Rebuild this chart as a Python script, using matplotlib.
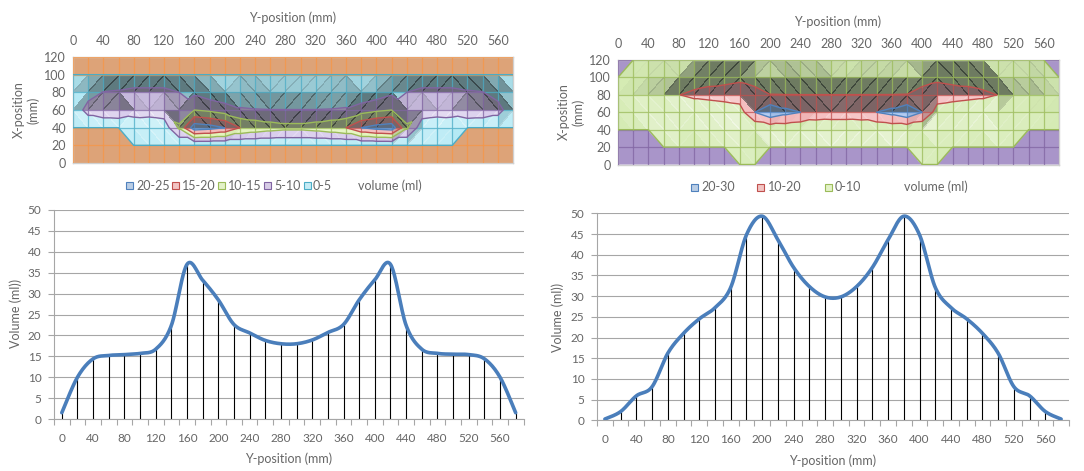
import numpy as np
import matplotlib
matplotlib.use("Agg")
import matplotlib.pyplot as plt
from matplotlib.tri import Triangulation
from matplotlib.collections import PolyCollection, LineCollection
from matplotlib.patches import Rectangle

plt.rcParams['font.family'] = ['Lato', 'DejaVu Sans']

# ---------------------------------------------------------------- data
y_positions = list(range(0, 600, 20))      # mm, 30 columns
x_positions = list(range(0, 140, 20))      # mm, 7 rows

# volume per Y-position (ml)
vol_left = [1.5, 10.0, 14.4, 15.2, 15.4, 15.7, 16.7, 22.4, 37.0, 33.2,
            28.5, 22.6, 20.6, 18.8, 18.0, 18.0, 18.9, 20.7, 22.6, 28.5,
            33.3, 37.0, 22.4, 16.7, 15.7, 15.5, 15.4, 14.4, 10.0, 1.5]
vol_right = [0.3, 2.1, 5.9, 8.1, 16.2, 21.0, 24.5, 27.2, 32.1, 44.8,
             49.3, 43.6, 36.9, 32.3, 29.8, 29.8, 32.3, 36.9, 43.6, 49.3,
             44.8, 32.1, 27.2, 24.5, 21.0, 16.2, 8.1, 5.9, 2.1, 0.3]

# volume field (ml), one row per X-position (0 ... 120 mm)
left_x0 = [0.0] * 30
left_x20 = [0.0] * 30
left_x40 = [0, 0, 0, 0, 1.0, 1.5, 2.0, 11, 23, 22, 20, 15, 13.5, 12.3, 11.5,
            11.5, 12.3, 13.5, 15, 20, 22, 23, 11, 2.0, 1.5, 1.0, 0, 0, 0, 0]
left_x60 = [1.0, 7.2, 9.0, 9.5, 7.7, 7.3, 8.0, 6.5, 10, 9, 7.5, 5.5, 5.2, 5.1, 5.1,
            5.1, 5.1, 5.2, 5.5, 7.5, 9, 10, 6.5, 8.0, 7.3, 7.7, 9.5, 9.0, 7.2, 1.0]
left_x80 = [0.6, 2.8, 5.2, 5.7, 6.7, 6.7, 6.7, 5.0, 4.0, 2.2, 1.0, 2.0, 1.9, 1.4, 1.4,
            1.4, 1.4, 1.9, 2.0, 1.0, 2.2, 4.0, 5.0, 6.7, 6.7, 6.7, 5.7, 5.2, 2.8, 0.6]
left_x100 = [0.0] * 30
left_x120 = [0.0] * 30

right_x0 = [0.0] * 30
right_x20 = [0, 0, 0, 0, 0, 0, 0, 0, 0.6, 0.8, 0, 0, 0, 0, 0,
             0, 0, 0, 0, 0, 0.8, 0.6, 0, 0, 0, 0, 0, 0, 0, 0]
right_x40 = [0, 0, 0, 0.8, 1.5, 0.5, 1.0, 1.2, 2.0, 1.0, 2.5, 3.0, 2.0, 2.5, 3.0,
             3.0, 2.5, 2.0, 3.0, 2.5, 1.0, 2.0, 1.2, 1.0, 0.5, 1.5, 0.8, 0, 0, 0]
right_x60 = [0.1, 0.5, 1.5, 2.2, 3.0, 3.0, 3.0, 4.0, 5.5, 20, 27.5, 23, 20, 16, 15,
             15, 16, 20, 23, 27.5, 20, 5.5, 4.0, 3.0, 3.0, 3.0, 2.2, 1.5, 0.5, 0.1]
right_x80 = [0.2, 1.0, 2.5, 3.0, 9.8, 12, 13, 14, 15, 14, 10.2, 10.1, 10.1, 10.1, 10.1,
             10.1, 10.1, 10.1, 10.1, 10.2, 14, 15, 14, 13, 12, 9.8, 3.0, 2.5, 1.0, 0.2]
right_x100 = [0, 0.4, 1.2, 1.3, 1.2, 5.0, 6.75, 7.0, 8.0, 5.5, 5.0, 4.5, 3.0, 2.5, 1.2,
              1.2, 2.5, 3.0, 4.5, 5.0, 5.5, 8.0, 7.0, 6.75, 5.0, 1.2, 1.3, 1.2, 0.4, 0]
right_x120 = [0, 0, 0.7, 0.8, 0.7, 0.5, 0.75, 1.0, 1.0, 3.5, 4.1, 3.0, 1.8, 1.2, 0.5,
              0.5, 1.2, 1.8, 3.0, 4.1, 3.5, 1.0, 1.0, 0.75, 0.5, 0.7, 0.8, 0.7, 0, 0]

left_labels = ['20-25', '15-20', '10-15', '5-10', '0-5']
right_labels = ['20-30', '10-20', '0-10']
legend_title = 'volume (ml)'

# ---------------------------------------------------------------- styles
EPS = 1e-6
left_levels = [-1, EPS, 5, 10, 15, 20, 25]
left_fill = ['#DDA378', '#B2E9F5', '#D3C5EA', '#E2F4B8', '#F4B9B9', '#AFC9EF']
left_edge = ['#F79646', '#4BACC6', '#8064A2', '#9BBB59', '#C0504D', '#4F81BD']
right_levels = [-1, EPS, 10, 20, 30]
right_fill = ['#A995C9', '#D5EBB3', '#F4B8BA', '#A9C5F0']
right_edge = ['#8064A2', '#9BBB59', '#C0504D', '#4F81BD']

TEXT = '#666666'
AXIS = '#A6A6A6'
FS = 9

W, H = 1084, 471
fig = plt.figure(figsize=(W / 100, H / 100), dpi=100)


def frac(l, t, r, b):
    return [l / W, 1 - b / H, (r - l) / W, (b - t) / H]


def build_triangles(z):
    nrow, ncol = z.shape
    zf = z.ravel()
    tris = []
    for i in range(nrow - 1):
        for j in range(ncol - 1):
            bl = i * ncol + j
            br = bl + 1
            tl = bl + ncol
            tr = tl + 1
            if abs(zf[tl] - zf[br]) < abs(zf[bl] - zf[tr]):
                tris += [[tl, tr, br], [tl, bl, br]]
            else:
                tris += [[bl, tl, tr], [bl, br, tr]]
    return np.array(tris)


def draw_surface(ax, rows, levels, fills, edges):
    z = np.array(rows, float)
    Y, X = np.meshgrid(np.array(y_positions, float), np.array(x_positions, float))
    tris = build_triangles(z)
    tri = Triangulation(Y.ravel(), X.ravel(), tris)
    zf = z.ravel()
    ax.tricontourf(tri, zf, levels=levels, colors=fills, antialiased=True, zorder=1)

    # lighting of each facet
    light = np.array([-0.45, -0.85, 1.0])
    light /= np.linalg.norm(light)
    P = np.stack([Y.ravel() / 20.0, X.ravel() / 20.0, zf * 0.2], axis=1)
    polys, cols = [], []
    for t in tris:
        p0, p1, p2 = P[t]
        n = np.cross(p1 - p0, p2 - p0)
        if n[2] < 0:
            n = -n
        n /= np.linalg.norm(n)
        d = max(np.dot(n, light), 0) - light[2]
        if abs(d) < 1e-4:
            continue
        if d < 0:
            cols.append((0.1, 0.12, 0.12, min(0.55, -d * 0.8)))
        else:
            cols.append((1, 1, 1, min(0.65, d * 1.6)))
        polys.append(np.stack([Y.ravel()[t], X.ravel()[t]], axis=1))
    ax.add_collection(PolyCollection(polys, facecolors=cols, edgecolors='none',
                                     antialiased=False, zorder=2))

    # mesh lines coloured by band
    inner = levels[1:-1]
    segs, scol = [], []

    def add_edge(a, b, za, zb):
        ts = [0.0, 1.0]
        for lv in inner:
            if (za - lv) * (zb - lv) < 0:
                ts.append((lv - za) / (zb - za))
        ts.sort()
        for u, v in zip(ts[:-1], ts[1:]):
            zm = za + (zb - za) * (u + v) / 2
            k = int(np.digitize(zm, inner, right=True))
            segs.append([a + (b - a) * u, a + (b - a) * v])
            scol.append(edges[k])

    nrow, ncol = z.shape
    for i in range(nrow):
        for j in range(ncol):
            a = np.array([y_positions[j], x_positions[i]], float)
            if j + 1 < ncol:
                add_edge(a, np.array([y_positions[j + 1], x_positions[i]], float),
                         z[i, j], z[i, j + 1])
            if i + 1 < nrow:
                add_edge(a, np.array([y_positions[j], x_positions[i + 1]], float),
                         z[i, j], z[i + 1, j])
    ax.add_collection(LineCollection(segs, colors=scol, linewidths=0.9,
                                     alpha=0.75, zorder=3))
    ax.tricontour(tri, zf, levels=inner, colors=edges[1:], linewidths=1.0, zorder=4)

    ax.set_xlim(0, 580)
    ax.set_ylim(0, 120)
    ax.xaxis.tick_top()
    ax.set_xticks(range(0, 561, 40))
    ax.set_yticks(range(0, 121, 20))
    ax.tick_params(length=0, labelsize=FS, labelcolor=TEXT)
    ax.tick_params(axis='x', pad=7)
    ax.tick_params(axis='y', pad=5)
    for s in ax.spines.values():
        s.set_color('#D0D0D0')
        s.set_linewidth(1.0)


def smooth_curve(xs, ys, n=24):
    pts = np.stack([xs, ys], axis=1)
    out = []
    for k in range(len(pts) - 1):
        p0 = pts[max(k - 1, 0)]
        p1 = pts[k]
        p2 = pts[k + 1]
        p3 = pts[min(k + 2, len(pts) - 1)]
        c1 = p1 + (p2 - p0) / 6.0
        c2 = p2 - (p3 - p1) / 6.0
        t = np.linspace(0, 1, n, endpoint=False)[:, None]
        out.append((1 - t) ** 3 * p1 + 3 * (1 - t) ** 2 * t * c1
                   + 3 * (1 - t) * t ** 2 * c2 + t ** 3 * p2)
    out.append(pts[-1:])
    c = np.vstack(out)
    return c[:, 0], c[:, 1]


def draw_profile(ax, vals):
    xs = np.array(y_positions, float)
    ys = np.array(vals, float)
    ax.vlines(xs, 0, ys, colors='black', linewidth=0.8, zorder=2)
    cx, cy = smooth_curve(xs, ys)
    ax.plot(cx, cy, color='#4A7EBB', linewidth=2.6, solid_capstyle='round', zorder=3)
    ax.set_xlim(-10, 590)
    ax.set_ylim(0, 50)
    ax.set_yticks(range(0, 51, 5))
    ax.set_xticks(range(0, 561, 40))
    ax.set_xticks(range(-10, 591, 20), minor=True)
    ax.tick_params(axis='x', which='major', length=0, pad=10, labelsize=8.5, labelcolor=TEXT)
    ax.tick_params(axis='x', which='minor', length=4, color=AXIS, width=0.8)
    ax.tick_params(axis='y', length=4, color=AXIS, width=0.8, pad=5, labelsize=8.5,
                   labelcolor=TEXT)
    ax.grid(axis='y', color=AXIS, linewidth=0.8, zorder=0)
    ax.set_axisbelow(True)
    for s in ('top', 'right'):
        ax.spines[s].set_visible(False)
    for s in ('left', 'bottom'):
        ax.spines[s].set_color(AXIS)
        ax.spines[s].set_linewidth(0.8)


def legend_row(entries, y, title_x):
    for (mx, tx, label, fc, ec) in entries:
        fig.patches.append(Rectangle((mx / W, 1 - (y + 3.5) / H), 7 / W, 7 / H,
                                     transform=fig.transFigure, facecolor=fc,
                                     edgecolor=ec, linewidth=0.8))
        fig.text(tx / W, 1 - y / H, label, fontsize=FS, color=TEXT, ha='left', va='center')
    fig.text(title_x / W, 1 - y / H, legend_title, fontsize=FS, color=TEXT,
             ha='left', va='center')


# ---------------------------------------------------------------- top left
ax1 = fig.add_axes(frac(73, 57, 513, 163))
draw_surface(ax1, [left_x0, left_x20, left_x40, left_x60, left_x80, left_x100, left_x120],
             left_levels, left_fill, left_edge)
fig.text(293 / W, 1 - 18 / H, 'Y-position (mm)', fontsize=FS, color=TEXT, ha='center', va='center')
fig.text(26 / W, 1 - 110 / H, 'X-position\n(mm)', fontsize=FS, color=TEXT, ha='center',
         va='center', rotation=90, multialignment='center')
legend_row([(126, 136, left_labels[0], '#B9CDE5', left_edge[5]),
            (172, 182, left_labels[1], '#F2C4C3', left_edge[4]),
            (218, 228, left_labels[2], '#E3F2C8', left_edge[3]),
            (264, 274, left_labels[3], '#D7CCE6', left_edge[2]),
            (304, 313, left_labels[4], '#C5EBF5', left_edge[1])], 185.5, 358)

# ---------------------------------------------------------------- top right
ax2 = fig.add_axes(frac(618, 60, 1059, 164.5))
draw_surface(ax2, [right_x0, right_x20, right_x40, right_x60, right_x80, right_x100, right_x120],
             right_levels, right_fill, right_edge)
fig.text(838 / W, 1 - 21.5 / H, 'Y-position (mm)', fontsize=FS, color=TEXT, ha='center', va='center')
fig.text(571 / W, 1 - 112 / H, 'X-position\n(mm)', fontsize=FS, color=TEXT, ha='center',
         va='center', rotation=90, multialignment='center')
legend_row([(691, 701, right_labels[0], '#B9CDE5', right_edge[3]),
            (757, 768, right_labels[1], '#F2C4C3', right_edge[2]),
            (825, 835, right_labels[2], '#E3F2C8', right_edge[1])], 187, 904)

# ---------------------------------------------------------------- bottom left
ax3 = fig.add_axes(frac(54, 210, 523.5, 419))
draw_profile(ax3, vol_left)
fig.text(289 / W, 1 - 459 / H, 'Y-position (mm)', fontsize=FS, color=TEXT, ha='center', va='center')
fig.text(16 / W, 1 - 313 / H, 'Volume (ml))', fontsize=FS, color=TEXT, ha='center',
         va='center', rotation=90)

# ---------------------------------------------------------------- bottom right
ax4 = fig.add_axes(frac(597, 213.3, 1069, 420.3))
draw_profile(ax4, vol_right)
fig.text(833 / W, 1 - 461 / H, 'Y-position (mm)', fontsize=FS, color=TEXT, ha='center', va='center')
fig.text(558 / W, 1 - 317 / H, 'Volume (ml))', fontsize=FS, color=TEXT, ha='center',
         va='center', rotation=90)

fig.savefig('out.png', dpi=100, facecolor='white')
